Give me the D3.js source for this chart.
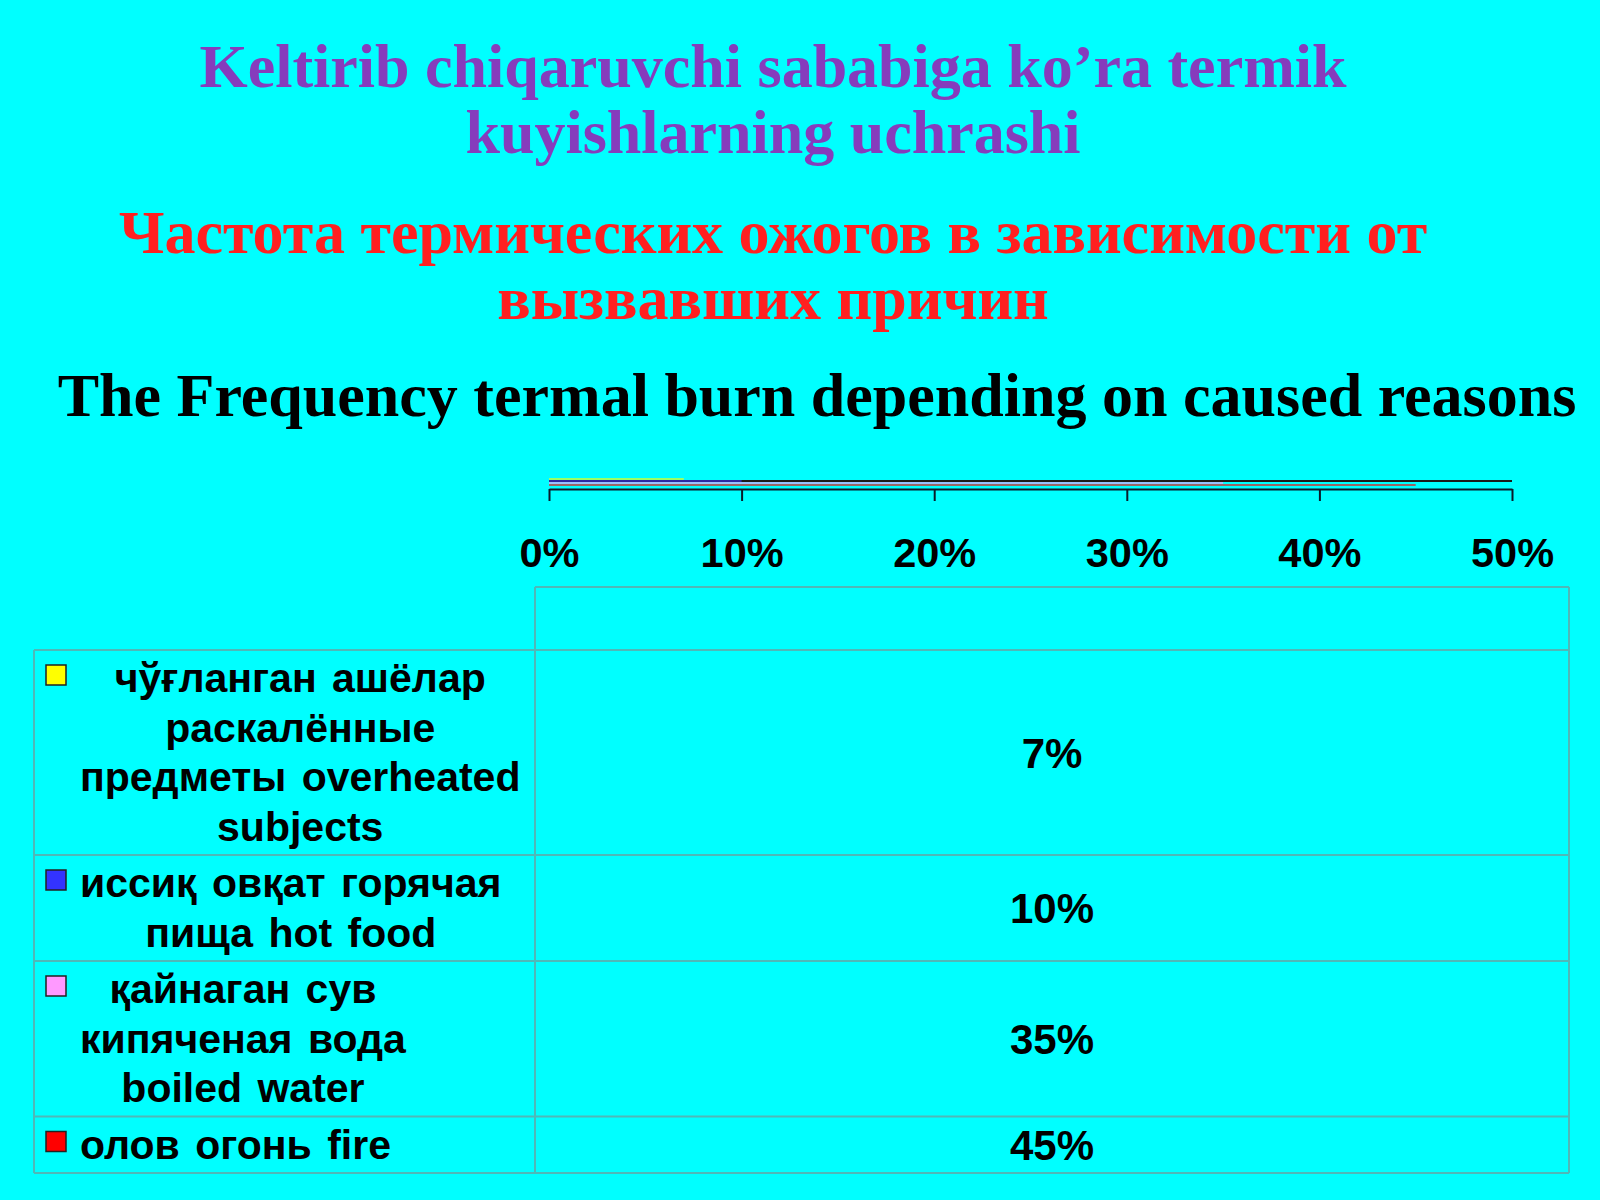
<!DOCTYPE html>
<html>
<head>
<meta charset="utf-8">
<script src="https://cdn.jsdelivr.net/npm/d3@7"></script>
<style>
  body { margin: 0; background: #00ffff; }
</style>
</head>
<body>
<script>
var categories = [
  ['чўғланган ашёлар', 'раскалённые', 'предметы overheated', 'subjects'],
  ['иссиқ овқат горячая', 'пища hot food'],
  ['қайнаган сув', 'кипяченая вода', 'boiled water'],
  ['олов огонь fire']
]
var values = [0.07, 0.10, 0.35, 0.45]
var colors = ['#ffff00', '#3333ff', '#ff99ff', '#ff0000']
var ticks = [0, 0.1, 0.2, 0.3, 0.4, 0.5]

var titleUz = ['Keltirib chiqaruvchi sababiga ko’ra termik', 'kuyishlarning uchrashi']
var titleRu = ['Частота термических ожогов в зависимости от', 'вызвавших причин']
var titleEn = 'The Frequency termal burn depending on caused reasons'

var w = 1600
var h = 1200
var sans = 'Liberation Sans, Arial, sans-serif'
var serif = 'Liberation Serif, Times New Roman, serif'
var gridColor = '#4fb8b8'

var svg = d3.select('body')
  .append('svg')
  .attr('width', w)
  .attr('height', h)

svg.append('rect').attr('width', w).attr('height', h).attr('fill', '#00ffff')

// titles
function titleLines(lines, x, y0, step, color, size) {
  svg.append('g').selectAll('text')
    .data(lines)
    .enter()
    .append('text')
    .text(function(d){ return d })
    .attr('x', x)
    .attr('y', function(d,i){ return y0 + i * step })
    .attr('text-anchor', 'middle')
    .attr('font-family', serif)
    .attr('font-weight', 'bold')
    .attr('font-size', size + 'px')
    .attr('fill', color)
}
titleLines(titleUz, 773, 87, 66, '#863cbc', 62)
titleLines(titleRu, 773, 253, 66, '#ff2020', 62)
titleLines([titleEn], 817, 416, 0, '#000000', 62)

// scales
var x = d3.scaleLinear().domain([0, 0.5]).range([549, 1512])
var yBar = d3.scaleBand().domain(d3.range(values.length)).range([478, 486])

// plot border line + very flat bars
svg.append('line')
  .attr('x1', x(0)).attr('x2', x(0.5))
  .attr('y1', 481).attr('y2', 481)
  .attr('stroke', '#1a1a1a').attr('stroke-width', 2)

svg.selectAll('rect.bar')
  .data(values)
  .enter()
  .append('rect')
  .attr('class', 'bar')
  .attr('x', x(0))
  .attr('y', function(d,i){ return yBar(i) })
  .attr('width', function(d){ return x(d) - x(0) })
  .attr('height', yBar.bandwidth())
  .attr('fill', function(d,i){ return colors[i] })
  .attr('fill-opacity', 0.6)

// axis
var axis = d3.axisBottom(x)
  .tickValues(ticks)
  .tickFormat(d3.format('.0%'))
  .tickSize(12)
  .tickSizeOuter(0)
  .tickPadding(37)

var gAxis = svg.append('g')
  .attr('transform', 'translate(0,489)')
  .call(axis)
gAxis.select('.domain').attr('stroke', '#0a1a2a').attr('stroke-width', 2)
gAxis.selectAll('.tick line').attr('stroke', '#0a1a2a').attr('stroke-width', 2)
gAxis.selectAll('.tick text')
  .attr('font-family', sans)
  .attr('font-weight', 'bold')
  .attr('font-size', '41.5px')
  .attr('fill', '#000')

// data table
var tableLeft = 34
var colDiv = 535
var tableRight = 1569
var headTop = 587
var bodyTop = 650
var lineH = 49.5

var rowTops = []
var yy = bodyTop
categories.forEach(function(c){
  rowTops.push(yy)
  yy += c.length * lineH + 7
})
var tableBottom = yy

var grid = svg.append('g').attr('stroke', gridColor).attr('stroke-width', 2)
grid.append('line').attr('x1', colDiv).attr('x2', tableRight).attr('y1', headTop).attr('y2', headTop)
grid.selectAll('line.row')
  .data(rowTops.concat([tableBottom]))
  .enter()
  .append('line')
  .attr('class', 'row')
  .attr('x1', tableLeft).attr('x2', tableRight)
  .attr('y1', function(d){ return d }).attr('y2', function(d){ return d })
grid.append('line').attr('x1', colDiv).attr('x2', colDiv).attr('y1', headTop).attr('y2', tableBottom)
grid.append('line').attr('x1', tableRight).attr('x2', tableRight).attr('y1', headTop).attr('y2', tableBottom)
grid.append('line').attr('x1', tableLeft).attr('x2', tableLeft).attr('y1', bodyTop).attr('y2', tableBottom)

// legend keys
svg.selectAll('rect.key')
  .data(categories)
  .enter()
  .append('rect')
  .attr('class', 'key')
  .attr('x', 46)
  .attr('y', function(d,i){ return rowTops[i] + 15 })
  .attr('width', 20)
  .attr('height', 20)
  .attr('fill', function(d,i){ return colors[i] })
  .attr('stroke', '#222')
  .attr('stroke-width', 1.5)

// category labels, lines centred on the widest line of each block
categories.forEach(function(lines, i){
  var g = svg.append('g')
  var texts = g.selectAll('text')
    .data(lines)
    .enter()
    .append('text')
    .text(function(d){ return d })
    .attr('y', function(d,j){ return rowTops[i] + 42 + j * lineH })
    .attr('text-anchor', 'middle')
    .attr('font-family', sans)
    .attr('font-weight', 'bold')
    .attr('font-size', '41px')
    .attr('word-spacing', '4px')
    .attr('fill', '#000')
  var maxW = d3.max(texts.nodes(), function(n){ return n.getComputedTextLength() })
  texts.attr('x', 80 + maxW / 2)
})

// value cells
svg.selectAll('text.val')
  .data(values)
  .enter()
  .append('text')
  .attr('class', 'val')
  .text(function(d){ return d3.format('.0%')(d) })
  .attr('x', (colDiv + tableRight) / 2)
  .attr('y', function(d,i){
    var top = rowTops[i]
    var bot = i + 1 < rowTops.length ? rowTops[i + 1] : tableBottom
    return (top + bot) / 2 + 15
  })
  .attr('text-anchor', 'middle')
  .attr('font-family', sans)
  .attr('font-weight', 'bold')
  .attr('font-size', '42px')
  .attr('fill', '#000')
</script>
</body>
</html>
